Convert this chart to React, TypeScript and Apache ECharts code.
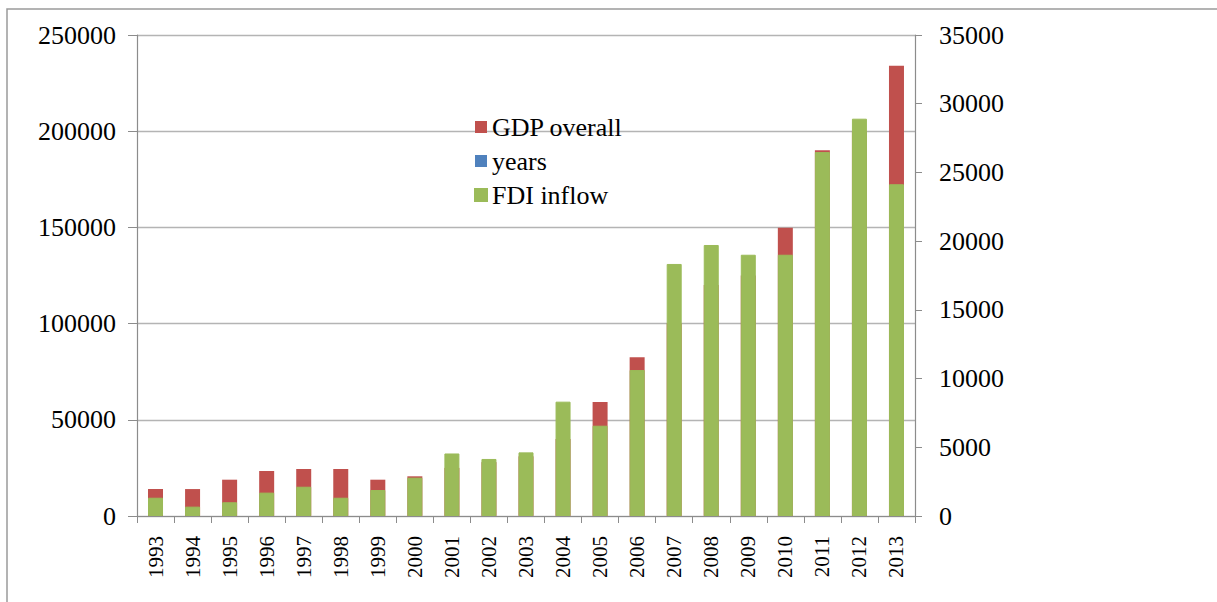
import React, { useEffect, useRef } from "react";
import * as echarts from "echarts";

const years = [
  "1993", "1994", "1995", "1996", "1997", "1998", "1999", "2000", "2001", "2002", "2003",
  "2004", "2005", "2006", "2007", "2008", "2009", "2010", "2011", "2012", "2013",
];
const gdpOverall = [
  14030, 14000, 18870, 23390, 24430, 24430, 18870, 20630, 25000, 28000, 31000,
  40000, 59300, 82480, 100000, 120000, 125000, 149850, 190120, 200000, 233990,
];
const yearsSeries: number[] = [];
const fdiInflow = [
  1330, 680, 1000, 1700, 2130, 1330, 1890, 2790, 4550, 4150, 4630,
  8320, 6570, 10620, 18340, 19720, 19010, 19010, 26480, 28910, 24140,
];
const leftMax = 250000;
const leftInterval = 50000;
const rightMax = 35000;
const rightInterval = 5000;

const FONT = "'Liberation Serif', 'Times New Roman', serif";

export default function App() {
  const ref = useRef<HTMLDivElement>(null);
  useEffect(() => {
    document.body.style.margin = "0";
    const chart = echarts.init(ref.current!, null, { renderer: "svg" });
    chart.setOption({
      animation: false,
      backgroundColor: "#ffffff",
      grid: { left: 137, right: 302, top: 35, bottom: 86 },
      graphic: [
        {
          type: "rect",
          silent: true,
          shape: { x: 7, y: 9, width: 1300, height: 700 },
          style: { fill: "none", stroke: "#9a9a9a", lineWidth: 1.5 },
        },
      ],
      legend: {
        orient: "vertical",
        left: 474,
        top: 114,
        padding: 0,
        itemWidth: 12,
        itemHeight: 12,
        itemGap: 8,
        icon: "rect",
        data: ["GDP overall", "years", "FDI inflow"],
        textStyle: { fontFamily: FONT, fontSize: 26, color: "#000" },
      },
      xAxis: {
        type: "category",
        data: years,
        boundaryGap: true,
        axisLine: { lineStyle: { color: "#8c8c8c", width: 1.2 } },
        axisTick: { show: true, length: 7, alignWithLabel: false, lineStyle: { color: "#8c8c8c" } },
        axisLabel: { rotate: 90, margin: 20, fontFamily: FONT, fontSize: 21, color: "#000", interval: 0 },
      },
      yAxis: [
        {
          type: "value",
          min: 0,
          max: leftMax,
          interval: leftInterval,
          axisLine: { show: true, lineStyle: { color: "#8c8c8c", width: 1.2 } },
          axisTick: { show: true, length: 9, lineStyle: { color: "#8c8c8c" } },
          axisLabel: {
            margin: 21,
            fontFamily: FONT,
            fontSize: 26,
            color: "#000",
            formatter: (v: number) => String(v),
          },
          splitLine: { show: true, lineStyle: { color: "#b4b4b4", width: 1.3 } },
        },
        {
          type: "value",
          min: 0,
          max: rightMax,
          interval: rightInterval,
          position: "right",
          axisLine: { show: true, lineStyle: { color: "#8c8c8c", width: 1.2 } },
          axisTick: { show: true, length: 7, lineStyle: { color: "#8c8c8c" } },
          axisLabel: {
            margin: 24,
            fontFamily: FONT,
            fontSize: 26,
            color: "#000",
            formatter: (v: number) => String(v),
          },
          splitLine: { show: false },
        },
      ],
      series: [
        {
          name: "GDP overall",
          type: "bar",
          yAxisIndex: 0,
          data: gdpOverall,
          barWidth: 15,
          barGap: "-100%",
          itemStyle: { color: "#C0504D" },
        },
        {
          name: "years",
          type: "bar",
          yAxisIndex: 0,
          data: yearsSeries,
          barWidth: 15,
          barGap: "-100%",
          itemStyle: { color: "#4F81BD" },
        },
        {
          name: "FDI inflow",
          type: "bar",
          yAxisIndex: 1,
          data: fdiInflow,
          barWidth: 15,
          barGap: "-100%",
          itemStyle: { color: "#9BBB59", borderColor: "#9BBB59", borderWidth: 1 },
        },
      ],
    });
    return () => chart.dispose();
  }, []);
  return (
    <div
      ref={ref}
      style={{ position: "absolute", left: 0, top: 0, width: 1217, height: 602 }}
    />
  );
}
